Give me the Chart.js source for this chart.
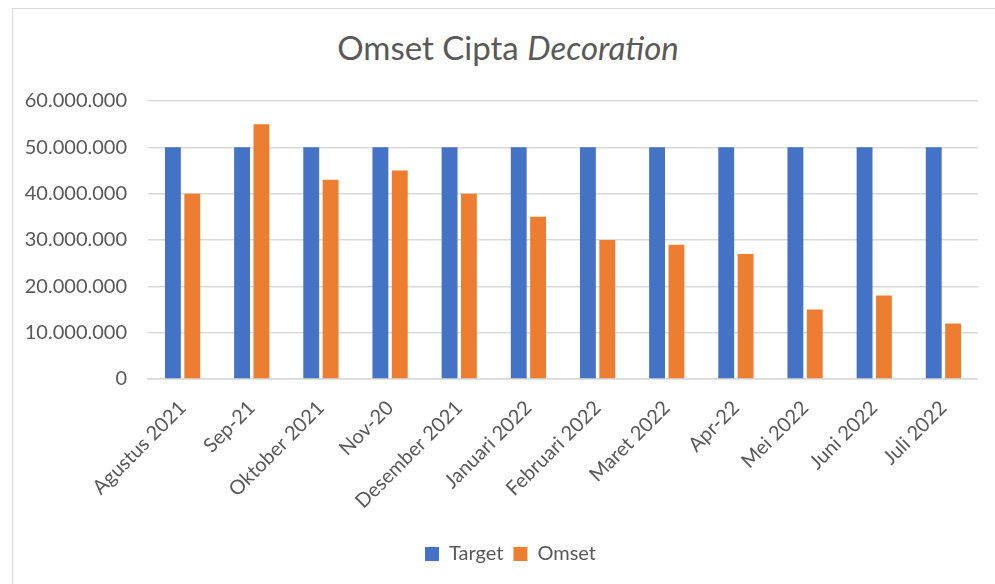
<!DOCTYPE html>
<html>
<head>
<meta charset="utf-8">
<script src="https://cdn.jsdelivr.net/npm/chart.js@4.4.1/dist/chart.umd.min.js"></script>
<style>
  html, body { margin: 0; padding: 0; background: #fff; overflow: hidden; }
  #frame {
    position: absolute; left: 12px; top: 8px;
    width: 1000px; height: 600px;
    border: 1px solid #d9d9d9; box-sizing: border-box;
  }
  #title {
    position: absolute; left: 0; top: 18px; width: 990px;
    text-align: center; font-family: Lato, "Open Sans", sans-serif;
    font-size: 33px; color: #595959;
  }
  #wrap { position: absolute; left: 0; top: 59px; width: 965px; height: 506px; }
</style>
</head>
<body>
<div id="frame">
  <div id="title">Omset Cipta <i>Decoration</i></div>
  <div id="wrap"><canvas id="chart"></canvas></div>
</div>
<script>
// data
const months = ['Agustus 2021', 'Sep-21', 'Oktober 2021', 'Nov-20', 'Desember 2021', 'Januari 2022',
                'Februari 2022', 'Maret 2022', 'Apr-22', 'Mei 2022', 'Juni 2022', 'Juli 2022'];
const target = [50000000, 50000000, 50000000, 50000000, 50000000, 50000000,
                50000000, 50000000, 50000000, 50000000, 50000000, 50000000];
const omset = [40000000, 55000000, 43000000, 45000000, 40000000, 35000000,
               30000000, 29000000, 27000000, 15000000, 18000000, 12000000];

const fontFam = 'Lato, "Open Sans", sans-serif';
const fmt = v => v.toLocaleString('de-DE');

// nudge the legend right so it sits centred under the whole frame
const legendShift = {
    id: 'legendShift',
    afterLayout: (chart) => {
        chart.legend.left += 15;
        chart.legend.right += 15;
    }
};

new Chart(document.getElementById('chart'), {
    type: 'bar',
    data: {
        labels: months,
        datasets: [
            { label: 'Target', data: target, backgroundColor: '#4472c4' },
            { label: 'Omset', data: omset, backgroundColor: '#ed7d31' }
        ]
    },
    options: {
        responsive: true,
        maintainAspectRatio: false,
        animation: false,
        layout: { padding: 0 },
        datasets: { bar: { categoryPercentage: 0.56, barPercentage: 0.82 } },
        plugins: {
            legend: {
                position: 'bottom',
                labels: {
                    color: '#595959', font: { family: fontFam, size: 20 },
                    boxWidth: 14, boxHeight: 14, padding: 10
                }
            },
            tooltip: { enabled: false }
        },
        scales: {
            x: {
                grid: { display: false },
                border: { color: '#d9d9d9', width: 1.5 },
                afterFit: s => { s.height = 155; },
                ticks: {
                    color: '#595959', font: { family: fontFam, size: 20 },
                    maxRotation: 45, minRotation: 45, autoSkip: false, padding: 9
                }
            },
            y: {
                min: 0, max: 60000000,
                grid: { color: '#d9d9d9', lineWidth: 1.5, drawTicks: false },
                border: { display: false },
                afterFit: s => { s.width = 135; },
                ticks: {
                    stepSize: 10000000, padding: 21,
                    color: '#595959', font: { family: fontFam, size: 20 },
                    callback: v => fmt(v)
                }
            }
        }
    },
    plugins: [legendShift]
});
</script>
</body>
</html>
